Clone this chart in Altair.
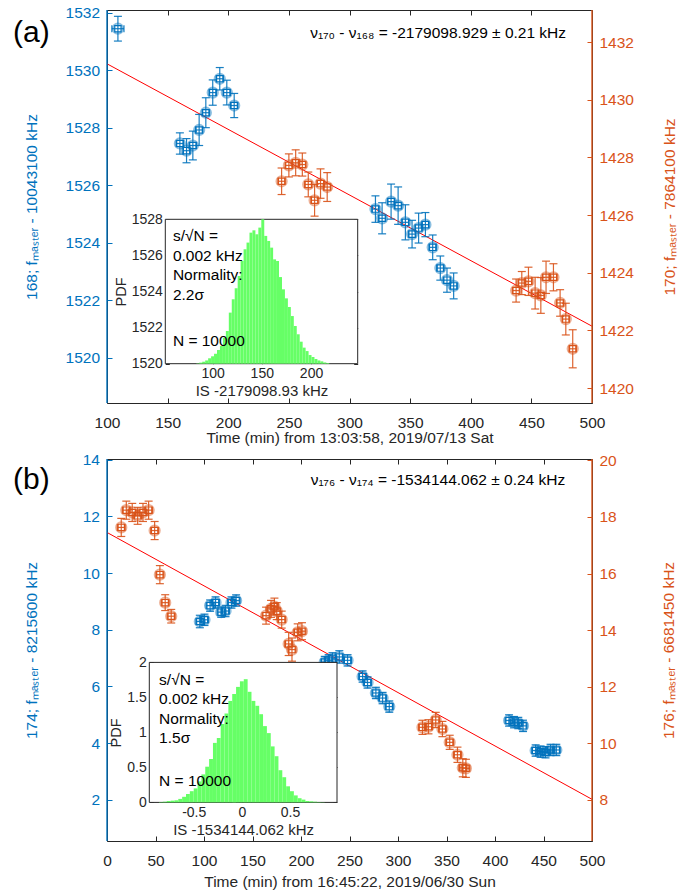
import altair as alt
import pandas as pd

FONT = "Liberation Sans"
BLUE = "#0072BD"
ORANGE = "#D95319"
RED = "#FF0000"
GREEN = "#66FF66"
DARK = "#262626"

W = 485
HA = 393
HB = 382
FS = 15.5

# ---------------- panel (a) data ----------------
a_x_limits = [100, 500]
a_yl_limits = [1518.43, 1532.09]
a_yr_limits = [1419.48, 1433.11]
a_x_ticks = [100, 150, 200, 250, 300, 350, 400, 450, 500]
a_yl_ticks = [1520, 1522, 1524, 1526, 1528, 1530, 1532]
a_yr_ticks = [1420, 1422, 1424, 1426, 1428, 1430, 1432]

a168_t = [109, 160.1, 165.6, 170.8, 176.0, 181.5, 187.2, 193.0, 198.8, 204.9,
          321.4, 326.9, 334.3, 340.1, 346.1, 351.6, 357.0, 362.6, 368.6, 374.9, 380.4, 385.9]
a168_f = [1531.44, 1527.45, 1527.2, 1527.38, 1527.92, 1528.52, 1529.22, 1529.70, 1529.22, 1528.77,
          1525.17, 1524.85, 1525.43, 1525.29, 1524.71, 1524.30, 1524.51, 1524.63, 1523.84, 1523.12, 1522.70, 1522.50]
a168_df = [0.43, 0.37, 0.42, 0.50, 0.54, 0.52, 0.44, 0.39, 0.43, 0.42,
           0.46, 0.54, 0.61, 0.65, 0.61, 0.48, 0.52, 0.42, 0.43, 0.42, 0.42, 0.45]
a168_dt = [5, 3, 3, 3, 3, 3, 3, 3, 3, 3, 3, 3, 3, 3, 3, 3, 3, 3, 3, 3, 3, 3]

a170_t = [244.0, 250.0, 255.6, 261.1, 266.0, 271.2, 276.1, 281.6,
          437.4, 442.1, 447.6, 453.1, 457.8, 462.1, 468.2, 473.7, 478.4, 484.1]
a170_f = [1427.17, 1427.72, 1427.81, 1427.75, 1427.06, 1426.51, 1427.09, 1426.97,
          1423.38, 1423.64, 1423.70, 1423.29, 1423.21, 1423.84, 1423.84, 1422.95, 1422.39, 1421.36]
a170_df = [0.46, 0.40, 0.45, 0.40, 0.43, 0.55, 0.51, 0.50,
           0.40, 0.40, 0.49, 0.55, 0.62, 0.56, 0.47, 0.46, 0.55, 0.66]
a170_dt = [3, 3, 3, 3, 3, 3, 3, 3, 3, 3, 3, 3, 3, 3, 3, 3, 3, 3]

a_fit_t = [100, 500]
a_fit_f = [1530.22, 1521.10]

a_hist_c = [85, 88, 91, 94, 97, 100, 103, 106, 109, 112, 115, 118, 121, 124, 127, 130, 133, 136,
            139, 142, 145, 148, 151, 154, 157, 160, 163, 166, 169, 172, 175, 178, 181, 184, 187,
            190, 193, 196, 199, 202, 205, 208, 211, 214, 217]
a_hist_h = [1520.02, 1520.06, 1520.11, 1520.18, 1520.30, 1520.41, 1520.55, 1520.76, 1520.98, 1521.44,
            1521.81, 1522.83, 1523.57, 1524.18, 1524.86, 1525.69, 1526.34, 1526.71, 1527.26, 1527.39,
            1527.17, 1527.54, 1528.00, 1527.08, 1526.80, 1526.43, 1525.78, 1525.69, 1524.80, 1524.12,
            1523.62, 1523.14, 1522.64, 1522.09, 1521.63, 1521.22, 1520.89, 1520.70, 1520.48, 1520.37,
            1520.26, 1520.18, 1520.13, 1520.07, 1520.04]
a_hist_w = 3
a_ins_x_limits = [52, 247.4]
a_ins_y_limits = [1520, 1528]
a_ins_x_ticks = [100, 150, 200]
a_ins_y_ticks = [1520, 1522, 1524, 1526, 1528]

# ---------------- panel (b) data ----------------
b_x_limits = [0, 500]
b_yl_limits = [0.55, 14.02]
b_yr_limits = [6.54, 20.05]
b_x_ticks = [0, 50, 100, 150, 200, 250, 300, 350, 400, 450, 500]
b_yl_ticks = [2, 4, 6, 8, 10, 12, 14]
b_yr_ticks = [8, 10, 12, 14, 16, 18, 20]

b174_t = [95.7, 100.5, 106.3, 111.9, 117.7, 122.2, 128.3, 133.1,
          224.5, 228.5, 232.5, 239.5, 248.0,
          263.5, 268.6, 277.2, 284.1, 291.0,
          414.5, 419.6, 424.0, 428.9, 441.9, 447.0, 452.1, 457.3, 463.2]
b174_f = [8.29, 8.35, 8.85, 8.96, 8.62, 8.66, 8.96, 9.03,
          6.86, 6.92, 6.97, 7.04, 6.92,
          6.35, 6.14, 5.77, 5.59, 5.29,
          4.80, 4.74, 4.71, 4.61, 3.74, 3.70, 3.68, 3.76, 3.76]
b174_df = [0.22, 0.20, 0.20, 0.20, 0.18, 0.20, 0.20, 0.20,
           0.20, 0.20, 0.22, 0.22, 0.20,
           0.20, 0.20, 0.20, 0.20, 0.20,
           0.20, 0.20, 0.20, 0.20, 0.20, 0.20, 0.20, 0.20, 0.20]
b174_dt = [4] * 27

b176_t = [14.7, 19.9, 26.0, 31.6, 37.1, 42.9, 49.1, 54.5, 60.0, 66.2,
          164.0, 169.1, 172.6, 175.0, 180.1, 187.3, 190.7, 196.6, 201.0,
          325.2, 331.4, 338.9, 345.8, 353.3, 361.3, 366.8, 370.0]
b176_f = [17.63, 18.24, 18.16, 18.04, 18.16, 18.24, 17.52, 15.96, 14.97, 14.49,
          14.51, 14.75, 14.83, 14.67, 14.37, 13.51, 13.31, 13.92, 13.96,
          10.56, 10.58, 10.82, 10.50, 10.03, 9.59, 9.13, 9.11]
b176_df = [0.32, 0.32, 0.32, 0.30, 0.32, 0.32, 0.32, 0.32, 0.28, 0.24,
           0.30, 0.30, 0.30, 0.30, 0.30, 0.41, 0.41, 0.30, 0.30,
           0.25, 0.25, 0.27, 0.27, 0.25, 0.27, 0.32, 0.32]
b176_dt = [4] * 27

b_fit_t = [0, 500]
b_fit_f = [11.43, 2.02]

b_hist_c = [-0.84, -0.80, -0.76, -0.72, -0.68, -0.64, -0.60, -0.56, -0.52, -0.48, -0.44, -0.40,
            -0.36, -0.32, -0.28, -0.24, -0.20, -0.16, -0.12, -0.08, -0.04, 0.00, 0.04, 0.08, 0.12,
            0.16, 0.20, 0.24, 0.28, 0.32, 0.36, 0.40, 0.44, 0.48, 0.52, 0.56, 0.60, 0.64, 0.68,
            0.72, 0.76, 0.80, 0.84]
b_hist_h = [0.005, 0.01, 0.02, 0.025, 0.03, 0.05, 0.08, 0.12, 0.16, 0.20, 0.30, 0.40, 0.51, 0.62,
            0.85, 0.92, 1.12, 1.27, 1.45, 1.55, 1.65, 1.73, 1.76, 1.58, 1.45, 1.38, 1.26, 1.09, 0.99,
            0.80, 0.66, 0.46, 0.36, 0.23, 0.16, 0.10, 0.06, 0.04, 0.02, 0.015, 0.01, 0.005, 0.003]
b_hist_w = 0.04
b_ins_x_limits = [-0.961, 0.988]
b_ins_y_limits = [0, 2]
b_ins_x_ticks = [-0.5, 0, 0.5]
b_ins_y_ticks = [0, 0.5, 1, 1.5, 2]


def err_frame(t, f, dfv, dtv):
    d = pd.DataFrame({"x": t, "y": f, "dy": dfv, "dx": dtv})
    d["ylo"] = d["y"] - d["dy"]
    d["yhi"] = d["y"] + d["dy"]
    d["xlo"] = d["x"] - d["dx"]
    d["xhi"] = d["x"] + d["dx"]
    return d


def series_layers(d, color, xs, xa, ys, ya):
    base = alt.Chart(d)

    def X(f):
        return alt.X(f"{f}:Q", scale=xs, axis=xa)

    def Y(f):
        return alt.Y(f"{f}:Q", scale=ys, axis=ya)

    lw = 1.2
    return [
        base.mark_rule(color=color, strokeWidth=lw, opacity=0.9).encode(x=X("x"), y=Y("ylo"), y2=alt.Y2("yhi")),
        base.mark_rule(color=color, strokeWidth=lw, opacity=0.9).encode(x=X("xlo"), x2=alt.X2("xhi"), y=Y("y")),
        base.mark_tick(orient="horizontal", color=color, size=8, thickness=lw, opacity=0.9).encode(x=X("x"), y=Y("yhi")),
        base.mark_tick(orient="horizontal", color=color, size=8, thickness=lw, opacity=0.9).encode(x=X("x"), y=Y("ylo")),
        base.mark_tick(orient="vertical", color=color, size=7, thickness=lw, opacity=0.9).encode(x=X("xlo"), y=Y("y")),
        base.mark_tick(orient="vertical", color=color, size=7, thickness=lw, opacity=0.9).encode(x=X("xhi"), y=Y("y")),
        base.mark_point(shape="circle", size=105, color=color, filled=False, opacity=0.45, strokeWidth=2).encode(x=X("x"), y=Y("y")),
        base.mark_point(shape="square", size=40, color=color, filled=False, opacity=1, strokeWidth=1.2).encode(x=X("x"), y=Y("y")),
    ]


def make_panel(H, xlim, xticks, xtitle, x_tp,
               yl_lim, yl_ticks, yl_title, yl_tp,
               yr_lim, yr_ticks, yr_title, yr_tp,
               blue, orange, fit_t, fit_f,
               label, label_y, annot, annot_x, annot_y,
               ins_xlim, ins_ylim, ins_xrange, ins_yrange, ins_xticks, ins_yticks, ins_xtitle,
               hist_c, hist_h, hist_w, txt_x, txt_y, n_y, txt_lines):
    xs = alt.Scale(domain=xlim, nice=False, zero=False)
    ysl = alt.Scale(domain=yl_lim, nice=False, zero=False)
    ysr = alt.Scale(domain=yr_lim, nice=False, zero=False)

    ax_xb = alt.Axis(orient="bottom", values=xticks, format="d", offset=-5, tickSize=5,
                     tickColor=DARK, labelColor=DARK, labelPadding=12, title=xtitle,
                     titleColor=DARK, titlePadding=x_tp)
    ax_xt = alt.Axis(orient="top", values=xticks, offset=-5, tickSize=5, tickColor=DARK,
                     labels=False, title="")
    ax_yl = alt.Axis(orient="left", values=yl_ticks, format="d", offset=-5, tickSize=5,
                     tickColor=BLUE, labelColor=BLUE, labelPadding=7.5, title=yl_title,
                     titleColor=BLUE, titlePadding=yl_tp)
    ax_yr = alt.Axis(orient="right", values=yr_ticks, format="d", offset=-5, tickSize=5,
                     tickColor=ORANGE, labelColor=ORANGE, labelPadding=7, title=yr_title,
                     titleColor=ORANGE, titlePadding=yr_tp, titleAngle=270, titleBaseline="top")

    # main blue layer (left axis)
    fit = alt.Chart(pd.DataFrame({"x": fit_t, "y": fit_f})).mark_line(color=RED, strokeWidth=1).encode(
        x=alt.X("x:Q", scale=xs, axis=ax_xb), y=alt.Y("y:Q", scale=ysl, axis=ax_yl))
    lrule = alt.Chart(pd.DataFrame({"x": [xlim[0]]})).mark_rule(color=BLUE, strokeWidth=1.4).encode(
        x=alt.X("x:Q", scale=xs, axis=ax_xb))
    lab = alt.Chart(pd.DataFrame({"t": [label]})).mark_text(
        align="left", baseline="middle", fontSize=30, font=FONT, color="black").encode(
        x=alt.value(-94), y=alt.value(label_y), text="t:N")
    ann = alt.Chart(pd.DataFrame({"x": [annot_x], "y": [annot_y], "t": [annot]})).mark_text(
        align="right", baseline="middle", fontSize=15.5, font=FONT, color="black").encode(
        x=alt.X("x:Q", scale=xs, axis=ax_xb), y=alt.Y("y:Q", scale=ysl, axis=ax_yl), text="t:N")
    blue_layer = alt.layer(fit, *series_layers(blue, BLUE, xs, ax_xb, ysl, ax_yl), lrule, lab, ann)

    # main orange layer (right axis)
    rrule = alt.Chart(pd.DataFrame({"x": [xlim[1]]})).mark_rule(color=ORANGE, strokeWidth=1.4).encode(
        x=alt.X("x:Q", scale=xs, axis=ax_xt))
    orange_layer = alt.layer(*series_layers(orange, ORANGE, xs, ax_xt, ysr, ax_yr), rrule)

    # inset
    ixs = alt.Scale(domain=ins_xlim, range=ins_xrange, nice=False, zero=False)
    iys = alt.Scale(domain=ins_ylim, range=ins_yrange, nice=False, zero=False)
    tl = 4
    ax_ixb = alt.Axis(orient="bottom", values=ins_xticks, offset=(ins_yrange[0] - tl) - H, tickSize=tl,
                      tickColor=DARK, labelColor=DARK, labelFontSize=14, labelPadding=3,
                      labelExpr="toString(datum.value)", title=ins_xtitle, titleColor=DARK,
                      titleFontSize=15, titlePadding=3)
    ax_iyl = alt.Axis(orient="left", values=ins_yticks, offset=-(ins_xrange[0] + tl), tickSize=tl,
                      tickColor=DARK, labelColor=DARK, labelFontSize=14, labelPadding=3,
                      labelExpr="toString(datum.value)", title="PDF", titleColor=DARK,
                      titleFontSize=14.5, titlePadding=3)
    ax_ixt = alt.Axis(orient="top", values=ins_xticks, offset=-(ins_yrange[1] + tl), tickSize=tl,
                      tickColor=DARK, labels=False, title="")
    ax_iyr = alt.Axis(orient="right", values=ins_yticks, offset=(ins_xrange[1] - tl) - W, tickSize=tl,
                      tickColor=DARK, labels=False, title="")

    frame = alt.Chart(pd.DataFrame({"x0": [ins_xlim[0]], "x1": [ins_xlim[1]],
                                    "y0": [ins_ylim[0]], "y1": [ins_ylim[1]]})).mark_rect(
        fill="white", stroke=DARK, strokeWidth=1).encode(
        x=alt.X("x0:Q", scale=ixs, axis=ax_ixt), x2=alt.X2("x1"),
        y=alt.Y("y0:Q", scale=iys, axis=ax_iyr), y2=alt.Y2("y1"))

    hd = pd.DataFrame({"c": hist_c, "h": hist_h})
    hd["lo"] = hd["c"] - hist_w / 2
    hd["hi"] = hd["c"] + hist_w / 2
    hd["b"] = ins_ylim[0]
    bars = alt.Chart(hd).mark_rect(color=GREEN, opacity=1).encode(
        x=alt.X("lo:Q", scale=ixs, axis=ax_ixb), x2=alt.X2("hi"),
        y=alt.Y("h:Q", scale=iys, axis=ax_iyl), y2=alt.Y2("b"))
    t1 = alt.Chart(pd.DataFrame({"x": [txt_x], "y": [txt_y], "t": [txt_lines[0]]})).mark_text(
        align="left", baseline="top", fontSize=15.5, font=FONT, color="black", lineBreak="\n",
        lineHeight=19.5).encode(
        x=alt.X("x:Q", scale=ixs, axis=ax_ixb), y=alt.Y("y:Q", scale=iys, axis=ax_iyl), text="t:N")
    t2 = alt.Chart(pd.DataFrame({"x": [txt_x], "y": [n_y], "t": [txt_lines[1]]})).mark_text(
        align="left", baseline="middle", fontSize=15.5, font=FONT, color="black").encode(
        x=alt.X("x:Q", scale=ixs, axis=ax_ixb), y=alt.Y("y:Q", scale=iys, axis=ax_iyl), text="t:N")
    hist_layer = alt.layer(bars, t1, t2)

    return alt.layer(blue_layer, orange_layer, frame, hist_layer).resolve_scale(
        x="independent", y="independent").properties(width=W, height=H)


panel_a = make_panel(
    HA, a_x_limits, a_x_ticks, "Time (min) from 13:03:58, 2019/07/13 Sat", 0,
    a_yl_limits, a_yl_ticks, "168; fₘₐₛₜₑᵣ - 10043100 kHz", 26,
    a_yr_limits, a_yr_ticks, "170; fₘₐₛₜₑᵣ - 7864100 kHz", 29,
    err_frame(a168_t, a168_f, a168_df, a168_dt), err_frame(a170_t, a170_f, a170_df, a170_dt),
    a_fit_t, a_fit_f,
    "(a)", 23, "ν₁₇₀ - ν₁₆₈ = -2179098.929 ± 0.21 kHz", 478.6, 1531.3,
    a_ins_x_limits, a_ins_y_limits, [58.3, 250.7], [353.7, 209.3], a_ins_x_ticks, a_ins_y_ticks,
    "IS -2179098.93 kHz", a_hist_c, a_hist_h, a_hist_w, 59.7, 1527.46, 1521.26,
    ["s/√N =\n0.002 kHz\nNormality:\n2.2σ", "N = 10000"])

panel_b = make_panel(
    HB, b_x_limits, b_x_ticks, "Time (min) from 16:45:22, 2019/06/30 Sun", 6,
    b_yl_limits, b_yl_ticks, "174; fₘₐₛₜₑᵣ - 8215600 kHz", 43,
    b_yr_limits, b_yr_ticks, "176; fₘₐₛₜₑᵣ - 6681450 kHz", 45,
    err_frame(b174_t, b174_f, b174_df, b174_dt), err_frame(b176_t, b176_f, b176_df, b176_dt),
    b_fit_t, b_fit_f,
    "(b)", 21, "ν₁₇₆ - ν₁₇₄ = -1534144.062 ± 0.24 kHz", 472.4, 13.29,
    b_ins_x_limits, b_ins_y_limits, [42.3, 230.0], [343.4, 203.4], b_ins_x_ticks, b_ins_y_ticks,
    "IS -1534144.062 kHz", b_hist_c, b_hist_h, b_hist_w, -0.859, 1.853, 0.31,
    ["s/√N =\n0.002 kHz\nNormality:\n1.5σ", "N = 10000"])

chart = alt.vconcat(panel_a, panel_b, spacing=5).properties(
    padding={"left": 12, "top": 5, "right": 0, "bottom": 0}
).configure(font=FONT).configure_view(stroke=DARK, strokeWidth=1).configure_axis(
    grid=False, domain=False, labelFont=FONT, titleFont=FONT, labelFontSize=FS,
    titleFontSize=FS, titleFontWeight="normal", labelFlush=False, labelOverlap=False,
    tickWidth=1)

chart.save("out.html", embed_options={"renderer": "svg", "actions": False})
